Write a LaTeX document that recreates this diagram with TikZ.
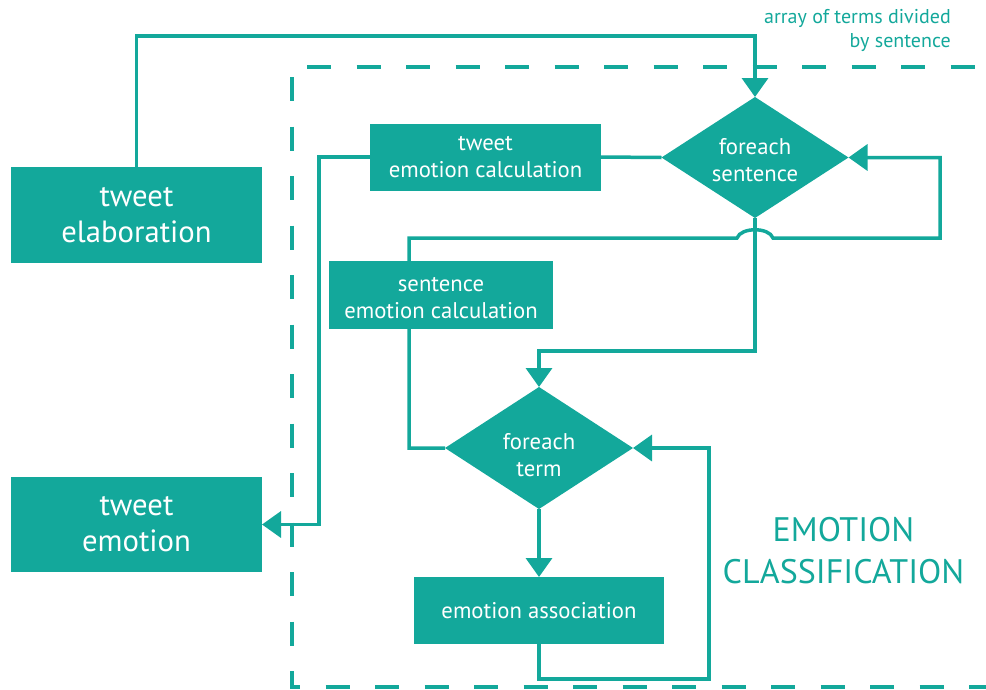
\documentclass[tikz,border=0pt]{standalone}
\usepackage{fontspec}
\setmainfont{PT Sans}
\usetikzlibrary{shapes.geometric,arrows.meta,backgrounds}
\definecolor{flowteal}{RGB}{19,168,155}
\begin{document}
\begin{tikzpicture}[x=1pt,y=-1pt,
  box/.style={fill=flowteal,text=white,inner sep=0pt,outer sep=0pt,align=center,
    font=\fontsize{22.7}{27}\selectfont},
  bigbox/.style={box,font=\fontsize{30.7}{36}\selectfont},
  decision/.style={diamond,fill=flowteal,inner sep=0pt,outer sep=0pt,
    minimum width=188pt,minimum height=122pt},
  intext/.style={text=white,inner sep=0pt,align=center,font=\fontsize{22.7}{27}\selectfont},
  flow/.style={draw=flowteal,line width=3.5pt},
  arrowed/.style={flow,-{Triangle[length=19pt,width=26pt]}},
  frame/.style={draw=flowteal,line width=4pt,dash pattern=on 24pt off 25.5pt},
  note/.style={text=flowteal,inner sep=0pt,align=right,font=\fontsize{20}{24}\selectfont},
  title/.style={text=flowteal,inner sep=0pt,align=center,font=\fontsize{34}{42}\selectfont}
]
\useasboundingbox (0,0) rectangle (986,689);

% boxes and decisions
\node[bigbox,minimum width=251pt,minimum height=96pt] (tel) at (136.5,215) {tweet\\elaboration};
\node[bigbox,minimum width=251pt,minimum height=95pt] (tem) at (136.5,524.5) {tweet\\emotion};
\node[box,minimum width=231pt,minimum height=67pt] (tec) at (485.5,157) {tweet\\emotion calculation};
\node[box,minimum width=224pt,minimum height=68pt] (sec) at (441,295) {};
\node[intext] (secT) at (441,298.5) {sentence\\emotion calculation};
\node[box,minimum width=250pt,minimum height=67pt] (ea) at (539,610.5) {emotion association};
\node[decision,minimum width=187pt,minimum height=121pt] (fs) at (755,157.5) {};
\node[intext] (fsT) at (755,160) {foreach\\sentence};
\node[decision] (ft) at (539,448) {};
\node[intext] (ftT) at (539,455.5) {foreach\\term};

% labels
\node[note,anchor=east] (arr) at (951,30.5) {array of terms divided\\by sentence};
\node[title] (cls) at (843.5,551) {EMOTION\\CLASSIFICATION};

% bend points of the connectors
\coordinate (topL) at (136.5,36);
\coordinate (topR) at (755,36);
\coordinate (outL) at (319,157);
\coordinate (lpB) at (409,238);
\coordinate (hopL) at (737,238);
\coordinate (hopR) at (773,238);
\coordinate (lpC) at (940,238);
\coordinate (midR) at (755,351);
\coordinate (botR) at (709,679);

% dashed module frame
\coordinate (frTL) at (292,67);
\coordinate (frTR) at (986,67);
\coordinate (frBL) at (292,687);
\coordinate (frBR) at (986,687);

\begin{pgfonlayer}{background}
  \draw[frame,dash phase=39.5pt] (frTL) -- (frBL) -- (frBR);
  \draw[frame,dash phase=34.5pt] (frTL) -- (frTR);

  \draw[arrowed] (tel.north) -- (topL) -- (topR) -- (fs.north);
  \draw[flow] (fs.west) -- (tec.east);
  \draw[arrowed] (tec.west) -- (outL) |- (tem.east);
  \draw[arrowed] (ft.west) -| (lpB) -- (hopL)
    .. controls +(4,-11) and +(-4,-11) .. (hopR) -- (lpC) |- (fs.east);
  \draw[arrowed] (fs.south) -- (midR) -| (ft.north);
  \draw[arrowed] (ft.south) -- (ea.north);
  \draw[arrowed] (ea.south) |- (botR) |- (ft.east);
\end{pgfonlayer}
\end{tikzpicture}
\end{document}
